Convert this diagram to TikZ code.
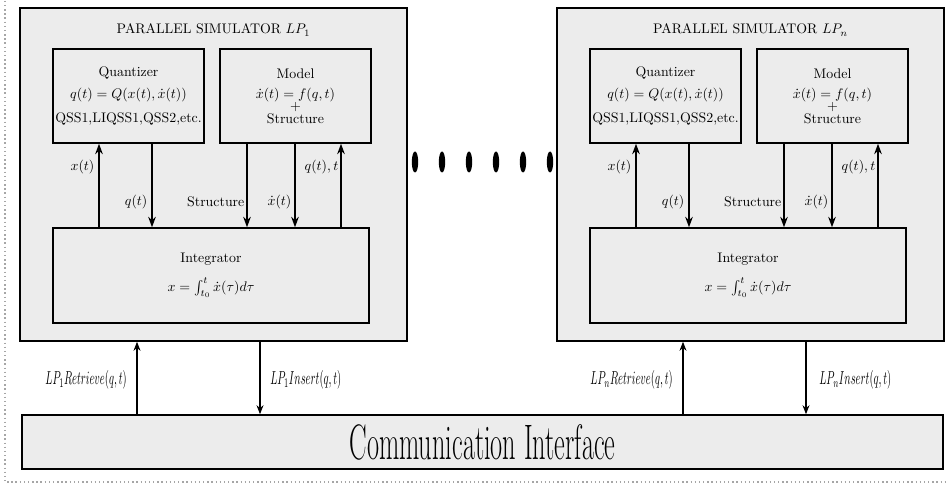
\documentclass[tikz,border=0pt]{standalone}
\usetikzlibrary{arrows.meta}
\begin{document}
\begin{tikzpicture}[x=0.72pt,y=-0.72pt,
  boxfill/.style={draw=black,line width=1.1pt,fill=boxgray,inner sep=0pt,align=center},
  arr/.style={line width=1.1pt,-{Stealth[length=7.5pt,width=5.5pt]}},
  arrthin/.style={line width=0.9pt,-{Stealth[length=6.5pt,width=5pt]}},
  lbl/.style={inner sep=1pt,font=\normalsize},
  lplbl/.style={inner sep=0pt}]
\definecolor{boxgray}{HTML}{ECECEC}
\clip (0,0) rectangle (948,486);
\useasboundingbox (0,0) rectangle (948,486);
\draw[gray!70,dotted,line width=1pt] (5,-20) rectangle (970,482);

\newcommand{\simblock}[3]{%
  \begin{scope}[xshift=#1*0.72pt]
  \node[boxfill,minimum width=278.64pt,minimum height=239.76pt] (lp#2) at (213.5,174.5) {};
  \node[lbl] (title#2) at (213.5,30) {PARALLEL SIMULATOR $LP_{#3}$};
  \node[boxfill,minimum width=108.72pt,minimum height=67.68pt] (quant#2) at (128.5,96)
    {Quantizer\\[3.6pt] $q(t)=Q(x(t),\dot{x}(t))$\\[5pt] QSS1,LIQSS1,QSS2,etc.};
  \node[boxfill,minimum width=108.72pt,minimum height=67.68pt] (model#2) at (295.5,96)
    {Model\\[2.2pt] $\dot{x}(t)=f(q,t)$\\[-3pt] $+$\\[-3pt] Structure};
  \node[boxfill,minimum width=227.52pt,minimum height=68.4pt] (integ#2) at (211,275.5)
    {Integrator\\[9pt] $x=\int_{t_0}^{t}\dot{x}(\tau)d\tau$};
  \coordinate (ax#2) at (99,0);
  \coordinate (aq#2) at (152,0);
  \coordinate (as#2) at (247,0);
  \coordinate (ad#2) at (295,0);
  \coordinate (aqt#2) at (341,0);
  \draw[arr] (integ#2.north -| ax#2) -- (quant#2.south -| ax#2);
  \draw[arr] (quant#2.south -| aq#2) -- (integ#2.north -| aq#2);
  \draw[arr] (model#2.south -| as#2) -- (integ#2.north -| as#2);
  \draw[arr] (model#2.south -| ad#2) -- (integ#2.north -| ad#2);
  \draw[arr] (integ#2.north -| aqt#2) -- (model#2.south -| aqt#2);
  \node[lbl,anchor=east] (lx#2) at (96,167) {$x(t)$};
  \node[lbl,anchor=east] (lq#2) at (149,202) {$q(t)$};
  \node[lbl,anchor=east] (ls#2) at (246,202) {Structure};
  \node[lbl,anchor=east] (ld#2) at (293,202) {$\dot{x}(t)$};
  \node[lbl,anchor=east] (lqt#2) at (340,167) {$q(t),t$};
  \end{scope}}

\simblock{0}{a}{1}
\simblock{537}{b}{n}

\foreach \i/\xx in {1/415,2/442,3/469,4/496,5/523,6/550}
  \fill (\xx,162) ellipse [x radius=3.2,y radius=10.5];

\node[boxfill,minimum width=663.12pt,minimum height=38.88pt] (comm) at (482.5,442)
  {\scalebox{1}[1.9]{\fontsize{18.9}{22}\selectfont Communication Interface}};

\coordinate (r1) at (137,0);
\coordinate (i1) at (260,0);
\coordinate (rn) at (683,0);
\coordinate (in) at (806,0);
\draw[arrthin] (comm.north -| r1) -- (lpa.south -| r1);
\draw[arrthin] (lpa.south -| i1) -- (comm.north -| i1);
\draw[arrthin] (comm.north -| rn) -- (lpb.south -| rn);
\draw[arrthin] (lpb.south -| in) -- (comm.north -| in);
\node[lplbl,anchor=east] (t1) at (127,380) {\scalebox{0.76}[1.35]{$LP_1 Retrieve(q,t)$}};
\node[lplbl,anchor=west] (t2) at (270,380) {\scalebox{0.76}[1.35]{$LP_1 Insert(q,t)$}};
\node[lplbl,anchor=east] (t3) at (673,380) {\scalebox{0.76}[1.35]{$LP_n Retrieve(q,t)$}};
\node[lplbl,anchor=west] (t4) at (819,380) {\scalebox{0.76}[1.35]{$LP_n Insert(q,t)$}};
\end{tikzpicture}
\end{document}
